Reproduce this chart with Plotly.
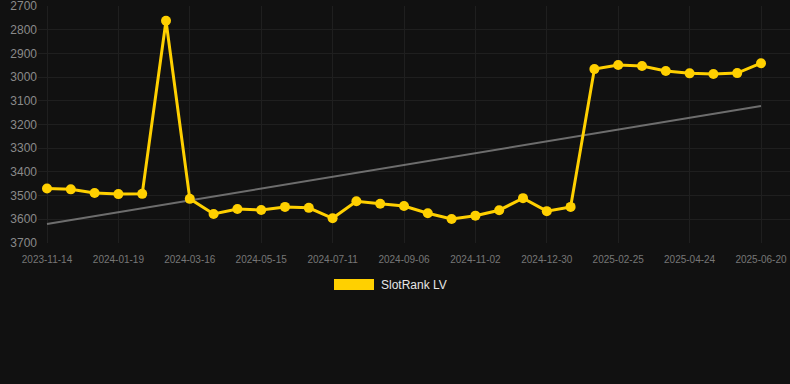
import plotly.graph_objects as go

dates = [
    "2023-11-14", "2023-12-06", "2023-12-28", "2024-01-19", "2024-02-07", "2024-02-26",
    "2024-03-16", "2024-04-05", "2024-04-25", "2024-05-15", "2024-06-03", "2024-06-22",
    "2024-07-11", "2024-07-30", "2024-08-18", "2024-09-06", "2024-09-25", "2024-10-14",
    "2024-11-02", "2024-11-21", "2024-12-10", "2024-12-30", "2025-01-18", "2025-02-06",
    "2025-02-25", "2025-03-16", "2025-04-04", "2025-04-24", "2025-05-13", "2025-06-01",
    "2025-06-20",
]
rank = [
    3470, 3474, 3489, 3494, 3493, 2762, 3514, 3578, 3557, 3561, 3548, 3552,
    3596, 3524, 3535, 3544, 3575, 3599, 3585, 3562, 3511, 3566, 3548, 2966,
    2949, 2953, 2974, 2984, 2987, 2983, 2941,
]
trend_x = [dates[0], dates[-1]]
trend_y = [3620, 3122]
tick_labels = dates[::3]
y_ticks = [2700, 2800, 2900, 3000, 3100, 3200, 3300, 3400, 3500, 3600, 3700]
series_name = "SlotRank LV"

YELLOW = "#FFD000"
BG = "#111111"

fig = go.Figure()
fig.add_trace(go.Scatter(
    x=dates, y=rank, mode="lines+markers", name=series_name,
    line=dict(color=YELLOW, width=3),
    marker=dict(color=YELLOW, size=10),
    showlegend=False,
))
fig.add_trace(go.Scatter(
    x=trend_x, y=trend_y, mode="lines",
    line=dict(color="rgba(140,140,140,0.75)", width=2),
    showlegend=False, hoverinfo="skip",
))
# draw trend below the series
fig.data = (fig.data[1], fig.data[0])

L, T, B = 38, 6, 141
PW, PH = 790 - L, 384 - T - B
step = 714 / 30.0
x0 = -(47 - L) / step
x1 = 30 + (790 - 761) / step

def px(xp):
    return (xp - L) / PW

def py(yp):
    return (384 - B - yp) / PH

fig.add_shape(type="rect", xref="paper", yref="paper",
              x0=px(334), x1=px(374), y0=py(290), y1=py(279),
              fillcolor=YELLOW, line=dict(width=0))
fig.add_annotation(text=series_name, xref="paper", yref="paper",
                   x=px(379), y=py(284.5), xanchor="left", yanchor="middle",
                   showarrow=False, font=dict(color="#e6e6e6", size=12,
                                              family="Liberation Sans, Arial, sans-serif"))

fig.update_layout(
    width=790, height=384,
    margin=dict(l=L, r=0, t=T, b=B),
    paper_bgcolor=BG, plot_bgcolor=BG,
    font=dict(family="Liberation Sans, Arial, sans-serif"),
    showlegend=False,
    xaxis=dict(
        type="category", categoryorder="array", categoryarray=dates,
        range=[x0, x1],
        tickmode="array", tickvals=tick_labels, ticktext=tick_labels,
        tickfont=dict(size=10, color="#777777"),
        ticklabelstandoff=9, ticklabeloverflow="allow",
        showgrid=True, gridcolor="#1f1f1f", gridwidth=1,
        zeroline=False, showline=False, ticks="",
    ),
    yaxis=dict(
        range=[3700.5, 2699.5], tickmode="array", tickvals=y_ticks,
        ticktext=[str(v) for v in y_ticks],
        tickfont=dict(size=12, color="#8a8a8a"),
        ticklabeloverflow="allow",
        showgrid=True, gridcolor="#1f1f1f", gridwidth=1,
        zeroline=False, showline=False, ticks="",
    ),
)

fig.write_html("out.html", config={"displayModeBar": False},
               post_script="document.body.style.margin='0';")
